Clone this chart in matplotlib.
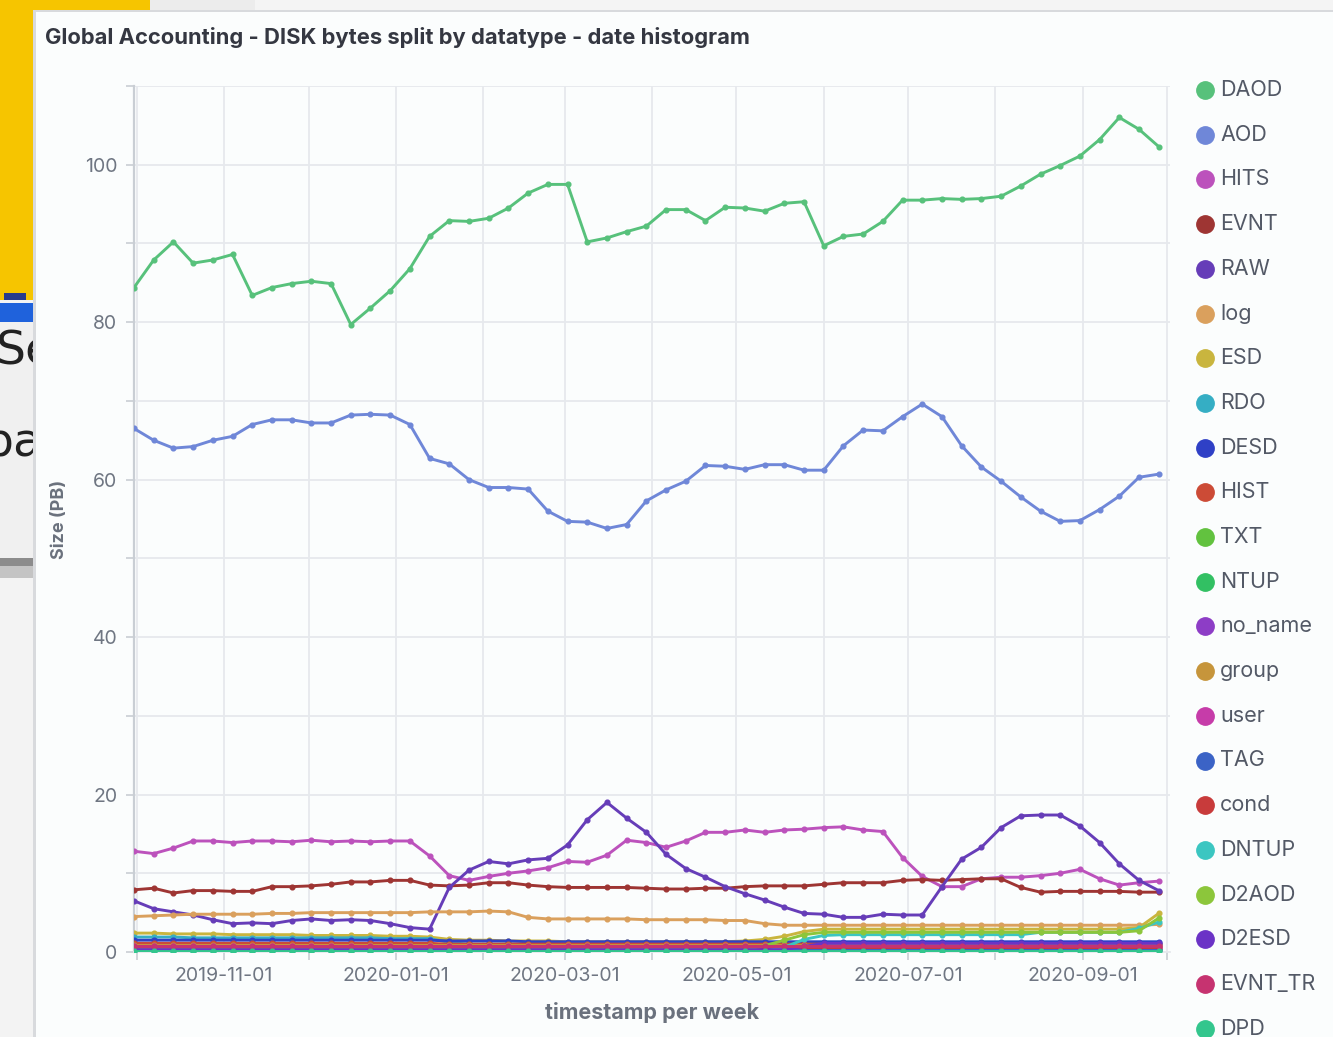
import pandas as pd
import matplotlib
matplotlib.use("Agg")
import matplotlib.pyplot as plt
from matplotlib.patches import Rectangle
from matplotlib.lines import Line2D

plt.rcParams['font.family'] = ['Inter', 'DejaVu Sans']

# weekly buckets (Kibana date histogram, 1 week)
weeks = pd.date_range('2019-09-30', periods=53, freq='7D')

# values in PB
daod = [84.4, 87.9, 90.2, 87.5, 87.9, 88.6, 83.4, 84.4, 84.9, 85.2,
        84.9, 79.7, 81.8, 84.0, 86.8, 90.9, 92.9, 92.8, 93.2, 94.5,
        96.4, 97.5, 97.5, 90.2, 90.7, 91.5, 92.2, 94.3, 94.3, 92.9,
        94.6, 94.5, 94.1, 95.1, 95.3, 89.7, 90.9, 91.2, 92.8, 95.5,
        95.5, 95.7, 95.6, 95.7, 96.0, 97.3, 98.8, 99.9, 101.1, 103.2,
        106.0, 104.5, 102.3]
aod = [66.5, 65.0, 64.0, 64.2, 65.0, 65.5, 67.0, 67.6, 67.6, 67.2,
       67.2, 68.2, 68.3, 68.2, 67.0, 62.7, 62.0, 60.0, 59.0, 59.0,
       58.8, 56.0, 54.7, 54.6, 53.8, 54.3, 57.3, 58.7, 59.8, 61.8,
       61.7, 61.3, 61.9, 61.9, 61.2, 61.2, 64.3, 66.3, 66.2, 68.0,
       69.6, 68.0, 64.3, 61.6, 59.8, 57.8, 56.0, 54.7, 54.8, 56.2,
       57.9, 60.3, 60.7]
hits = [12.8, 12.5, 13.2, 14.1, 14.1, 13.9, 14.1, 14.1, 14.0, 14.2,
        14.0, 14.1, 14.0, 14.1, 14.1, 12.2, 9.7, 9.1, 9.6, 10.0,
        10.3, 10.7, 11.5, 11.4, 12.3, 14.2, 13.9, 13.3, 14.1, 15.2,
        15.2, 15.5, 15.2, 15.5, 15.6, 15.8, 15.9, 15.5, 15.3, 12.0,
        9.6, 8.3, 8.3, 9.3, 9.5, 9.5, 9.7, 10.0, 10.5, 9.3,
        8.5, 8.8, 9.0]
evnt = [7.9, 8.1, 7.5, 7.8, 7.8, 7.7, 7.7, 8.3, 8.3, 8.4,
        8.6, 8.9, 8.9, 9.1, 9.1, 8.5, 8.4, 8.5, 8.8, 8.8,
        8.5, 8.3, 8.2, 8.2, 8.2, 8.2, 8.1, 8.0, 8.0, 8.1,
        8.1, 8.3, 8.4, 8.4, 8.4, 8.6, 8.8, 8.8, 8.8, 9.1,
        9.2, 9.1, 9.2, 9.3, 9.3, 8.2, 7.6, 7.7, 7.7, 7.7,
        7.7, 7.6, 7.6]
raw = [6.5, 5.5, 5.1, 4.7, 4.1, 3.6, 3.7, 3.6, 4.0, 4.2,
       4.0, 4.1, 4.0, 3.6, 3.1, 2.9, 8.2, 10.4, 11.5, 11.2,
       11.7, 11.9, 13.6, 16.8, 19.0, 17.0, 15.2, 12.4, 10.6, 9.5,
       8.3, 7.4, 6.6, 5.7, 4.9, 4.8, 4.4, 4.4, 4.8, 4.7,
       4.7, 8.3, 11.8, 13.3, 15.8, 17.3, 17.4, 17.4, 16.0, 13.9,
       11.2, 9.1, 7.8]
log = [4.5, 4.6, 4.7, 4.8, 4.8, 4.8, 4.8, 4.9, 4.9, 5.0,
       5.0, 5.0, 5.0, 5.0, 5.0, 5.1, 5.1, 5.1, 5.2, 5.1,
       4.4, 4.2, 4.2, 4.2, 4.2, 4.2, 4.1, 4.1, 4.1, 4.1,
       4.0, 4.0, 3.6, 3.4, 3.4, 3.4, 3.4, 3.4, 3.4, 3.4,
       3.4, 3.4, 3.4, 3.4, 3.4, 3.4, 3.4, 3.4, 3.4, 3.4,
       3.4, 3.4, 3.5]
esd = [2.4, 2.4, 2.3, 2.3, 2.3, 2.2, 2.2, 2.2, 2.2, 2.1,
       2.1, 2.1, 2.1, 2.0, 2.0, 1.9, 1.6, 1.5, 1.5, 1.4,
       1.4, 1.4, 1.3, 1.3, 1.3, 1.3, 1.3, 1.3, 1.3, 1.3,
       1.3, 1.4, 1.6, 2.0, 2.6, 2.9, 2.9, 2.9, 2.9, 2.9,
       2.9, 2.9, 2.9, 2.9, 2.9, 2.9, 2.9, 2.9, 2.9, 2.9,
       2.9, 3.1, 4.9]
rdo = [1.9, 1.9, 1.9, 1.8, 1.8, 1.8, 1.8, 1.8, 1.8, 1.8,
       1.8, 1.8, 1.8, 1.7, 1.7, 1.7, 1.2, 1.0, 1.0, 1.0,
       0.9, 0.9, 0.9, 0.9, 0.9, 0.9, 0.9, 0.9, 0.9, 0.9,
       0.9, 0.9, 0.9, 0.9, 0.9, 0.9, 0.9, 0.9, 0.9, 0.9,
       0.9, 0.9, 0.9, 0.9, 0.9, 0.9, 0.9, 0.9, 0.9, 0.9,
       0.9, 0.9, 1.0]
desd = [1.5, 1.5, 1.5, 1.5, 1.5, 1.5, 1.5, 1.5, 1.5, 1.5,
        1.5, 1.5, 1.5, 1.5, 1.5, 1.5, 1.4, 1.4, 1.4, 1.4,
        1.3, 1.3, 1.3, 1.3, 1.3, 1.3, 1.3, 1.3, 1.3, 1.3,
        1.3, 1.3, 1.3, 1.3, 1.3, 1.3, 1.3, 1.3, 1.3, 1.3,
        1.3, 1.3, 1.3, 1.3, 1.3, 1.3, 1.3, 1.3, 1.3, 1.3,
        1.3, 1.3, 1.3]
hist = [1.1, 1.1, 1.1, 1.1, 1.1, 1.1, 1.1, 1.1, 1.1, 1.1,
        1.1, 1.1, 1.1, 1.1, 1.1, 1.1, 1.0, 1.0, 1.0, 1.0,
        1.0, 1.0, 1.0, 1.0, 1.0, 1.0, 1.0, 1.0, 1.0, 1.0,
        1.0, 1.0, 1.0, 1.0, 1.0, 1.0, 1.0, 1.0, 1.0, 1.0,
        1.0, 1.0, 1.0, 1.0, 1.0, 1.0, 1.0, 1.0, 1.0, 1.0,
        1.0, 1.0, 1.0]
txt = [0.2, 0.2, 0.2, 0.2, 0.2, 0.2, 0.2, 0.2, 0.2, 0.2,
       0.2, 0.2, 0.2, 0.2, 0.2, 0.2, 0.2, 0.2, 0.2, 0.2,
       0.2, 0.2, 0.2, 0.2, 0.2, 0.2, 0.2, 0.2, 0.2, 0.2,
       0.2, 0.2, 0.2, 0.2, 0.2, 0.2, 0.2, 0.2, 0.2, 0.2,
       0.2, 0.2, 0.2, 0.2, 0.2, 0.2, 0.2, 0.2, 0.2, 0.2,
       0.2, 0.2, 0.2]
ntup = [0.4, 0.4, 0.4, 0.4, 0.4, 0.4, 0.4, 0.4, 0.4, 0.4,
        0.4, 0.4, 0.4, 0.4, 0.4, 0.4, 0.4, 0.4, 0.4, 0.4,
        0.4, 0.4, 0.4, 0.4, 0.4, 0.4, 0.4, 0.4, 0.4, 0.4,
        0.4, 0.4, 0.4, 0.4, 0.4, 0.4, 0.4, 0.4, 0.4, 0.4,
        0.4, 0.4, 0.4, 0.4, 0.4, 0.4, 0.4, 0.4, 0.4, 0.4,
        0.4, 0.4, 0.4]
no_name = [0.5, 0.5, 0.5, 0.5, 0.5, 0.5, 0.5, 0.5, 0.5, 0.5,
           0.5, 0.5, 0.5, 0.5, 0.5, 0.5, 0.5, 0.5, 0.5, 0.5,
           0.5, 0.5, 0.5, 0.5, 0.5, 0.5, 0.5, 0.5, 0.5, 0.5,
           0.5, 0.5, 0.5, 0.5, 0.5, 0.5, 0.5, 0.5, 0.5, 0.5,
           0.5, 0.5, 0.5, 0.5, 0.5, 0.5, 0.5, 0.5, 0.5, 0.5,
           0.5, 0.5, 0.5]
group = [0.9, 0.9, 0.9, 0.9, 0.9, 0.9, 0.9, 0.9, 0.9, 0.9,
         0.9, 0.9, 0.9, 0.9, 0.9, 0.9, 0.9, 0.9, 0.9, 0.9,
         0.9, 0.9, 0.9, 0.9, 0.9, 0.9, 0.9, 0.9, 0.9, 0.9,
         0.9, 0.9, 0.9, 0.9, 0.9, 0.9, 0.9, 0.9, 0.9, 0.9,
         0.9, 0.9, 0.9, 0.9, 0.9, 0.9, 0.9, 0.9, 0.9, 0.9,
         0.9, 0.9, 0.9]
user = [0.8, 0.8, 0.8, 0.8, 0.8, 0.8, 0.8, 0.8, 0.8, 0.8,
        0.8, 0.8, 0.8, 0.8, 0.8, 0.8, 0.8, 0.8, 0.8, 0.8,
        0.8, 0.8, 0.8, 0.8, 0.8, 0.8, 0.8, 0.8, 0.8, 0.8,
        0.8, 0.8, 0.8, 0.8, 0.8, 0.8, 0.8, 0.8, 0.8, 0.8,
        0.8, 0.8, 0.8, 0.8, 0.8, 0.8, 0.8, 0.8, 0.8, 0.8,
        0.8, 0.8, 0.8]
tag = [0.2, 0.2, 0.2, 0.2, 0.2, 0.2, 0.2, 0.2, 0.2, 0.2,
       0.2, 0.2, 0.2, 0.2, 0.2, 0.2, 0.2, 0.2, 0.2, 0.2,
       0.2, 0.2, 0.2, 0.2, 0.2, 0.2, 0.3, 0.3, 0.3, 0.3,
       0.3, 0.3, 0.3, 0.3, 0.3, 0.3, 0.3, 0.3, 0.3, 0.3,
       0.3, 0.3, 0.3, 0.3, 0.3, 0.3, 0.3, 0.3, 0.3, 0.3,
       0.3, 0.3, 0.3]
cond = [0.6, 0.6, 0.6, 0.6, 0.6, 0.6, 0.6, 0.6, 0.6, 0.6,
        0.6, 0.6, 0.6, 0.6, 0.6, 0.6, 0.6, 0.6, 0.6, 0.6,
        0.6, 0.6, 0.6, 0.6, 0.6, 0.6, 0.6, 0.6, 0.6, 0.6,
        0.6, 0.6, 0.6, 0.6, 0.6, 0.6, 0.6, 0.6, 0.6, 0.6,
        0.6, 0.6, 0.6, 0.6, 0.6, 0.6, 0.6, 0.6, 0.6, 0.6,
        0.6, 0.6, 0.6]
dntup = [0.1, 0.1, 0.1, 0.1, 0.1, 0.1, 0.1, 0.1, 0.1, 0.1,
         0.1, 0.1, 0.1, 0.1, 0.1, 0.1, 0.1, 0.1, 0.1, 0.1,
         0.1, 0.1, 0.1, 0.1, 0.1, 0.1, 0.1, 0.1, 0.1, 0.1,
         0.1, 0.1, 0.1, 0.6, 1.6, 2.1, 2.2, 2.2, 2.2, 2.2,
         2.2, 2.2, 2.2, 2.2, 2.2, 2.2, 2.5, 2.5, 2.5, 2.5,
         2.5, 3.0, 3.8]
d2aod = [0.3, 0.3, 0.3, 0.3, 0.3, 0.3, 0.3, 0.3, 0.3, 0.3,
         0.3, 0.3, 0.3, 0.3, 0.3, 0.3, 0.3, 0.3, 0.3, 0.3,
         0.3, 0.3, 0.3, 0.3, 0.3, 0.3, 0.3, 0.3, 0.3, 0.3,
         0.3, 0.3, 0.8, 1.5, 2.2, 2.5, 2.5, 2.5, 2.5, 2.5,
         2.5, 2.5, 2.5, 2.5, 2.5, 2.5, 2.5, 2.5, 2.5, 2.5,
         2.5, 2.7, 4.3]
d2esd = [0.3, 0.3, 0.3, 0.3, 0.3, 0.3, 0.3, 0.3, 0.3, 0.3,
         0.3, 0.3, 0.3, 0.3, 0.3, 0.3, 0.3, 0.3, 0.3, 0.3,
         0.3, 0.3, 0.3, 0.3, 0.3, 0.3, 0.3, 0.3, 0.3, 0.3,
         0.3, 0.3, 0.3, 0.3, 0.7, 1.1, 1.1, 1.1, 1.1, 1.1,
         1.1, 1.1, 1.1, 1.1, 1.1, 1.1, 1.1, 1.1, 1.1, 1.1,
         1.1, 1.1, 1.1]
evnt_tr = [0.7, 0.7, 0.7, 0.7, 0.7, 0.7, 0.7, 0.7, 0.7, 0.7,
           0.7, 0.7, 0.7, 0.7, 0.7, 0.7, 0.7, 0.7, 0.7, 0.7,
           0.7, 0.7, 0.7, 0.7, 0.7, 0.7, 0.7, 0.7, 0.7, 0.7,
           0.7, 0.7, 0.7, 0.7, 0.7, 0.7, 0.7, 0.7, 0.7, 0.7,
           0.7, 0.7, 0.7, 0.7, 0.7, 0.7, 0.7, 0.7, 0.7, 0.7,
           0.7, 0.7, 0.7]
dpd = [0.1, 0.1, 0.1, 0.1, 0.1, 0.1, 0.1, 0.1, 0.1, 0.1,
       0.1, 0.1, 0.1, 0.1, 0.1, 0.1, 0.1, 0.1, 0.1, 0.1,
       0.1, 0.1, 0.1, 0.1, 0.1, 0.1, 0.1, 0.1, 0.1, 0.1,
       0.1, 0.1, 0.1, 0.1, 0.1, 0.1, 0.1, 0.1, 0.1, 0.1,
       0.1, 0.1, 0.1, 0.1, 0.1, 0.1, 0.1, 0.1, 0.1, 0.1,
       0.1, 0.1, 0.1]

names = ["DAOD", "AOD", "HITS", "EVNT", "RAW", "log", "ESD", "RDO", "DESD",
         "HIST", "TXT", "NTUP", "no_name", "group", "user", "TAG", "cond",
         "DNTUP", "D2AOD", "D2ESD", "EVNT_TR", "DPD"]
values = [daod, aod, hits, evnt, raw, log, esd, rdo, desd, hist, txt, ntup,
          no_name, group, user, tag, cond, dntup, d2aod, d2esd, evnt_tr, dpd]
colors = ["#57c17b", "#6f87d8", "#bc52bc", "#9e3533", "#663db8", "#daa05d",
          "#c9b53e", "#35aec4", "#2f40c6", "#cc4b36", "#62c23f", "#32c063",
          "#8d3dc6", "#c6953b", "#c63ca9", "#3b63c6", "#c83b3b", "#3bc6c1",
          "#8cc63b", "#6b33c6", "#c63370", "#33c68d"]

W, H = 1333, 1037
fig = plt.figure(figsize=(W / 100, H / 100), dpi=100, facecolor="#f4f4f4")


def rect(x0, y0, x1, y1, color, z=-5):
    # pixel box (top-left origin) -> figure fraction
    fig.add_artist(Rectangle((x0 / W, 1 - y1 / H), (x1 - x0) / W, (y1 - y0) / H,
                             transform=fig.transFigure, color=color, zorder=z,
                             linewidth=0))


# bits of the page behind the panel (partly hidden in the screenshot)
rect(0, 0, 150, 12, "#f6c500")
rect(150, 0, 255, 12, "#ececec")
rect(0, 0, 36, 300, "#f6c500")
rect(4, 293, 26, 300, "#283c8c", z=-4)
rect(0, 303, 36, 322, "#1f62dc")
rect(0, 322, 36, 558, "#f0f0f0")
rect(0, 558, 36, 566, "#8c8c8c")
rect(0, 566, 36, 578, "#c4c4c4")
rect(0, 578, 36, H, "#f3f3f3")
fig.text(-0.003, 1 - 352 / H, "Se", fontsize=34, color="#222222",
         va="center", ha="left", zorder=-4, family=["DejaVu Sans"])
fig.text(-0.012, 1 - 443 / H, "ba", fontsize=34, color="#222222",
         va="center", ha="left", zorder=-4, family=["DejaVu Sans"])
# the panel itself
rect(33, 10, W, H, "#d8dadd", z=-2)
rect(36, 12, W, H, "#fbfdfd", z=-1)

ax = fig.add_axes([134 / W, 1 - 952 / H, (1170 - 134) / W, (952 - 86) / H])
ax.set_facecolor("none")

for name, vals, col in zip(names, values, colors):
    ax.plot(weeks, vals, color=col, lw=2.1, marker="o", markersize=3.4,
            solid_joinstyle="round", zorder=3)

ax.set_ylim(0, 110)
ax.set_xlim(pd.Timestamp("2019-09-30"), pd.Timestamp("2020-10-02"))

yt = list(range(0, 111, 10))
ax.set_yticks(yt)
ax.set_yticklabels([str(v) if v % 20 == 0 and v <= 100 else "" for v in yt])
xt = pd.date_range("2019-10-01", "2020-10-01", freq="MS")
ax.set_xticks(xt)
ax.set_xticklabels([d.strftime("%Y-%m-%d") if d.month % 2 == 1 else "" for d in xt])

ax.grid(True, color="#e6e9ed", lw=1.3)
ax.set_axisbelow(True)
for s in ["top", "right"]:
    ax.spines[s].set_visible(False)
ax.spines["left"].set_color("#c9ced4")
ax.spines["left"].set_linewidth(1.6)
ax.spines["bottom"].set_color("#e6e9ed")
ax.spines["bottom"].set_linewidth(1.3)
ax.tick_params(axis="both", colors="#c9ced4", length=6, width=1.2,
               labelcolor="#6f7682", labelsize=14)
ax.tick_params(axis="y", pad=6)
ax.tick_params(axis="x", pad=5)

ax.set_ylabel("Size (PB)", fontsize=13, fontweight="bold", color="#6a717d",
              labelpad=12)
ax.set_xlabel("timestamp per week", fontsize=15.5, fontweight="bold",
              color="#6a717d", labelpad=12)

fig.text(45 / W, 1 - 37 / H, "Global Accounting - DISK bytes split by datatype - date histogram",
         fontsize=15.8, fontweight="bold", color="#343741", va="center", ha="left")

# legend column on the right
for i, (name, col) in enumerate(zip(names, colors)):
    yy = 1 - (90 + i * 44.7) / H
    fig.add_artist(Line2D([1205 / W], [yy], marker="o", markersize=12.5,
                          color=col, linestyle="none", transform=fig.transFigure))
    fig.text(1220 / W, yy, name, fontsize=15.5, color="#535966",
             va="center", ha="left")

fig.savefig("out.png", dpi=100, facecolor=fig.get_facecolor())
